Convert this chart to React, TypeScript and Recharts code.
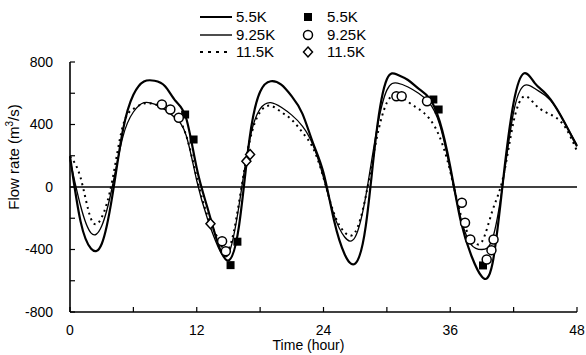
import { ComposedChart, Line, Scatter, XAxis, YAxis, ReferenceLine, Legend } from 'recharts'

// simulated flow rate (m3/s), hourly
const hours = [
  0, 1, 2, 3, 4, 5, 6, 7, 8, 9, 10, 11, 12, 13, 14, 15, 16, 17, 18, 19, 20, 21, 22, 23, 24,
  25, 26, 27, 28, 29, 30, 31, 32, 33, 34, 35, 36, 37, 38, 39, 40, 41, 42, 43, 44, 45, 46, 47, 48,
]
const flow55 = [
  197, -220, -395, -365, -60, 360, 590, 675, 680, 645, 550, 440, 120, -130, -360, -470, -250, 310, 610, 677, 655, 580, 470, 283, 91,
  -215, -430, -490, -250, 340, 690, 718, 685, 630, 570, 420, 130, -220, -440, -575, -490, 40, 540, 728, 665, 600, 510, 390, 260,
]
const flow925 = [
  176, -120, -295, -250, 0, 320, 480, 540, 530, 495, 440, 330, 40, -200, -380, -430, -120, 300, 500, 540, 510, 460, 390, 270, 60,
  -180, -320, -320, -60, 350, 620, 665, 640, 600, 540, 400, 110, -200, -370, -400, -330, 30, 480, 650, 630, 585, 510, 390, 270,
]
const flow115 = [
  197, 60, -205, -195, 40, 390, 500, 535, 530, 510, 460, 330, 60, -180, -330, -400, -100, 290, 480, 520, 480, 430, 350, 250, 60,
  -170, -290, -290, -60, 300, 540, 590, 545, 500, 440, 320, 100, -180, -330, -350, -150, 60, 420, 580, 530, 480, 445, 370, 230,
]

// observed points
const obs55Hours = [10.9, 11.7, 15.2, 15.85, 34.4, 34.9, 39.1]
const obs55Flow = [464, 304, -500, -350, 560, 496, -502]
const obs925Hours = [8.7, 9.5, 10.3, 14.4, 14.75, 30.9, 31.4, 33.8, 37.1, 37.4, 37.9, 39.45, 39.9, 40.1]
const obs925Flow = [528, 496, 443, -347, -411, 581, 581, 549, -101, -229, -336, -464, -404, -336]
const obs115Hours = [13.3, 16.7, 17.05]
const obs115Flow = [-235, 165, 208]

const xTicks = [0, 6, 12, 18, 24, 30, 36, 42, 48]
const yTicks = [-800, -600, -400, -200, 0, 200, 400, 600, 800]

const FONT = '"Liberation Sans", Arial, sans-serif'

const rows = hours.map((t, i) => ({ t, k55: flow55[i], k925: flow925[i], k115: flow115[i] }))
const pts = (ts: number[], vs: number[]) => ts.map((t, i) => ({ t, v: vs[i] }))

const Square = (p: any) => <rect x={p.cx - 4} y={p.cy - 4} width={8} height={8} fill="#000" />
const Circle = (p: any) => <circle cx={p.cx} cy={p.cy} r={4.5} fill="#fff" stroke="#000" strokeWidth={1.5} />
const Diamond = (p: any) => (
  <polygon
    points={`${p.cx},${p.cy - 5} ${p.cx + 4.5},${p.cy} ${p.cx},${p.cy + 5} ${p.cx - 4.5},${p.cy}`}
    fill="#fff" stroke="#000" strokeWidth={1.5}
  />
)

function KeyBox() {
  const rowsY = [11, 29, 46]
  const names = ['5.5K', '9.25K', '11.5K']
  return (
    <svg width={190} height={56} style={{ fontFamily: FONT }}>
      <line x1={4} x2={36} y1={rowsY[0]} y2={rowsY[0]} stroke="#000" strokeWidth={2} />
      <line x1={4} x2={36} y1={rowsY[1]} y2={rowsY[1]} stroke="#000" strokeWidth={1.4} />
      <line x1={4} x2={34} y1={rowsY[2]} y2={rowsY[2]} stroke="#000" strokeWidth={2} strokeDasharray="3 5" />
      {names.map((n, i) => (
        <text key={'l' + i} x={40} y={rowsY[i] + 5} fontSize={15}>{n}</text>
      ))}
      <Square cx={112} cy={rowsY[0]} />
      <Circle cx={112} cy={rowsY[1]} />
      <Diamond cx={112} cy={rowsY[2]} />
      {names.map((n, i) => (
        <text key={'r' + i} x={131} y={rowsY[i] + 5} fontSize={15}>{n}</text>
      ))}
    </svg>
  )
}

const YTitle = ({ viewBox }: any) => {
  const cx = viewBox.x + 9
  const cy = 157
  return (
    <text x={cx} y={cy} transform={`rotate(-90, ${cx}, ${cy})`} textAnchor="middle" fontSize={15} fontFamily={FONT} fill="#000">
      Flow rate (m<tspan dy={-6} fontSize={10}>3</tspan><tspan dy={6}>/s)</tspan>
    </text>
  )
}

const XTitle = ({ viewBox }: any) => (
  <text x={viewBox.x + viewBox.width / 2 - 15} y={350} textAnchor="middle" fontSize={14} fontFamily={FONT} fill="#000">
    Time (hour)
  </text>
)

export default function App() {
  return (
    <div style={{ position: 'absolute', left: 0, top: 0, background: '#fff', fontFamily: FONT }}>
      <ComposedChart width={586} height={355} data={rows} margin={{ top: 62, right: 9, bottom: 13, left: 10 }}>
        <XAxis
          dataKey="t" type="number" domain={[0, 48]} ticks={xTicks} interval={0}
          tickSize={-5} tickMargin={18} height={30}
          axisLine={{ stroke: '#000', strokeWidth: 1.6 }} tickLine={{ stroke: '#000', strokeWidth: 1.2 }}
          tick={{ fill: '#000', fontSize: 14, fontFamily: FONT }}
          tickFormatter={(v: number) => (v % 12 === 0 ? String(v) : '')}
          label={<XTitle />}
        />
        <YAxis
          type="number" domain={[-800, 800]} ticks={yTicks} interval={0} width={60}
          tickSize={-5} tickMargin={22}
          axisLine={{ stroke: '#000', strokeWidth: 1.6 }} tickLine={{ stroke: '#000', strokeWidth: 1.2 }}
          tick={{ fill: '#000', fontSize: 14, fontFamily: FONT }}
          tickFormatter={(v: number) => (v % 400 === 0 ? String(v) : '')}
          label={<YTitle />}
        />
        <ReferenceLine y={0} stroke="#000" strokeWidth={1.3} />
        <Legend layout="horizontal" verticalAlign="middle" align="center" content={() => <KeyBox />}
          wrapperStyle={{ top: 6, left: 196, width: 190, height: 56 }} />
        <Line type="natural" dataKey="k55" stroke="#000" strokeWidth={2.2} dot={false} isAnimationActive={false} />
        <Line type="natural" dataKey="k925" stroke="#000" strokeWidth={1.3} dot={false} isAnimationActive={false} />
        <Line type="natural" dataKey="k115" stroke="#000" strokeWidth={2} strokeDasharray="2 4" dot={false} isAnimationActive={false} />
        <Scatter data={pts(obs55Hours, obs55Flow)} dataKey="v" shape={<Square />} isAnimationActive={false} />
        <Scatter data={pts(obs925Hours, obs925Flow)} dataKey="v" shape={<Circle />} isAnimationActive={false} />
        <Scatter data={pts(obs115Hours, obs115Flow)} dataKey="v" shape={<Diamond />} isAnimationActive={false} />
      </ComposedChart>
    </div>
  )
}
